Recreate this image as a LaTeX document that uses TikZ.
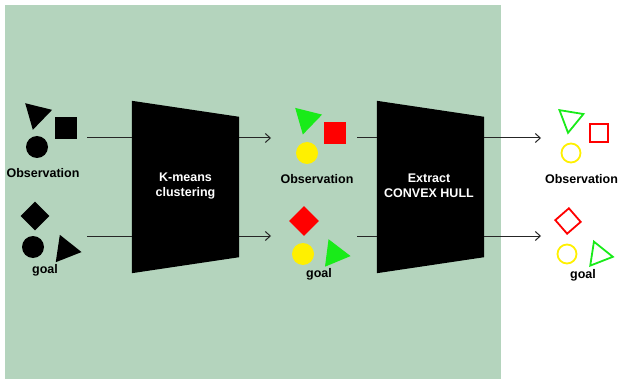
\documentclass[tikz,border=0pt]{standalone}
\usepackage{fontspec}
\setmainfont{Liberation Sans}
\usetikzlibrary{arrows.meta}
\usetikzlibrary{shapes.geometric}
\definecolor{bggreen}{RGB}{180,212,189}
\definecolor{ptyellow}{RGB}{255,240,0}
\definecolor{ptgreen}{RGB}{25,235,25}
\definecolor{ptred}{RGB}{255,0,0}
\tikzset{>={Straight Barb[length=5pt,width=9pt]}}
\tikzset{
  tri/.style={regular polygon, regular polygon sides=3, minimum size=32pt, inner sep=0pt},
  sqr/.style={rectangle, minimum size=22pt, inner sep=0pt},
  dot/.style={circle, minimum size=22pt, inner sep=0pt},
  hollow/.style={line width=1.8pt, fill=none},
  lbl/.style={anchor=base, inner sep=0pt, font=\fontsize{12.5}{15}\selectfont\bfseries},
  stage/.style={minimum width=107pt, minimum height=172pt, inner sep=0pt},
  stagetxt/.style={text=white, align=center, font=\fontsize{12.5}{14.5}\selectfont\bfseries},
  link/.style={line width=1pt, black!85}
}

\begin{document}
\begin{tikzpicture}[x=1pt, y=-1pt]
    \useasboundingbox (0,0) rectangle (620,379);
    \fill[bggreen] (5,5) rectangle (501,379);

    \node[tri, fill=black, rotate=46] (inTriA) at (36.7,114.3) {};
    \node[sqr, fill=black] (inSqA) at (66,128.5) {};
    \node[dot, fill=black] (inDotA) at (37,147) {};
    \node[lbl] (inObs) at (43,177.5) {Observation};
    \node[sqr, fill=black, rotate=45, minimum size=20.5pt] (inSqB) at (35,216) {};
    \node[dot, fill=black] (inDotB) at (33,247) {};
    \node[tri, fill=black, rotate=21.5] (inTriB) at (65.7,249.7) {};
    \node[lbl] (inGoal) at (45,273.5) {goal};

    \node[stage] (kmeans) at (185.5,187) {};
    \fill (kmeans.north west) -- ([yshift=-16pt]kmeans.north east) -- ([yshift=16pt]kmeans.south east) -- (kmeans.south west) -- cycle;
    \node[stagetxt] (kmeansTxt) at (185.5,186) {K-means\\clustering};

    \node[stage] (hull) at (430.5,187) {};
    \fill (hull.north west) -- ([yshift=-16pt]hull.north east) -- ([yshift=16pt]hull.south east) -- (hull.south west) -- cycle;
    \node[stagetxt] (hullTxt) at (429,186) {Extract\\CONVEX HULL};

    \node[tri, fill=ptgreen, rotate=46] (midTriA) at (306.7,119) {};
    \node[sqr, fill=ptred] (midSqA) at (335,133) {};
    \node[dot, fill=ptyellow] (midDotA) at (307,153) {};
    \node[lbl] (midObs) at (317,183.3) {Observation};
    \node[sqr, fill=ptred, rotate=45, minimum size=21pt] (midSqB) at (304,221) {};
    \node[dot, fill=ptyellow] (midDotB) at (303,254) {};
    \node[tri, fill=ptgreen, rotate=22.6] (midTriB) at (334.7,254) {};
    \node[lbl] (midGoal) at (319,277.7) {goal};

    \node[tri, hollow, draw=ptgreen, minimum size=28pt, rotate=50.7] (outTriA) at (570.3,119) {};
    \node[sqr, hollow, draw=ptred, minimum size=18pt] (outSqA) at (599,133) {};
    \node[dot, hollow, draw=ptyellow, minimum size=19pt] (outDotA) at (571,153) {};
    \node[lbl] (outObs) at (581.5,183.3) {Observation};
    \node[sqr, hollow, draw=ptred, minimum size=18pt, rotate=41] (outSqB) at (568,221) {};
    \node[dot, hollow, draw=ptyellow, minimum size=19pt] (outDotB) at (567,254) {};
    \node[tri, hollow, draw=ptgreen, minimum size=28pt, rotate=21.3] (outTriB) at (599,254.7) {};
    \node[lbl] (outGoal) at (583,278) {goal};

    \coordinate (rowA) at (87,138);
    \coordinate (rowB) at (87,236);
    \coordinate (midA) at (271,138);
    \coordinate (midB) at (271,236);
    \coordinate (nextA) at (357,138);
    \coordinate (nextB) at (357,236);
    \coordinate (endA) at (541,138);
    \coordinate (endB) at (541,236);

    \draw[link] (rowA) -- (rowA -| kmeans.west);
    \draw[link] (rowB) -- (rowB -| kmeans.west);
    \draw[link, ->] (rowA -| kmeans.east) -- (midA);
    \draw[link, ->] (rowB -| kmeans.east) -- (midB);
    \draw[link] (nextA) -- (nextA -| hull.west);
    \draw[link] (nextB) -- (nextB -| hull.west);
    \draw[link, ->] (endA -| hull.east) -- (endA);
    \draw[link, ->] (endB -| hull.east) -- (endB);
\end{tikzpicture}
\end{document}
